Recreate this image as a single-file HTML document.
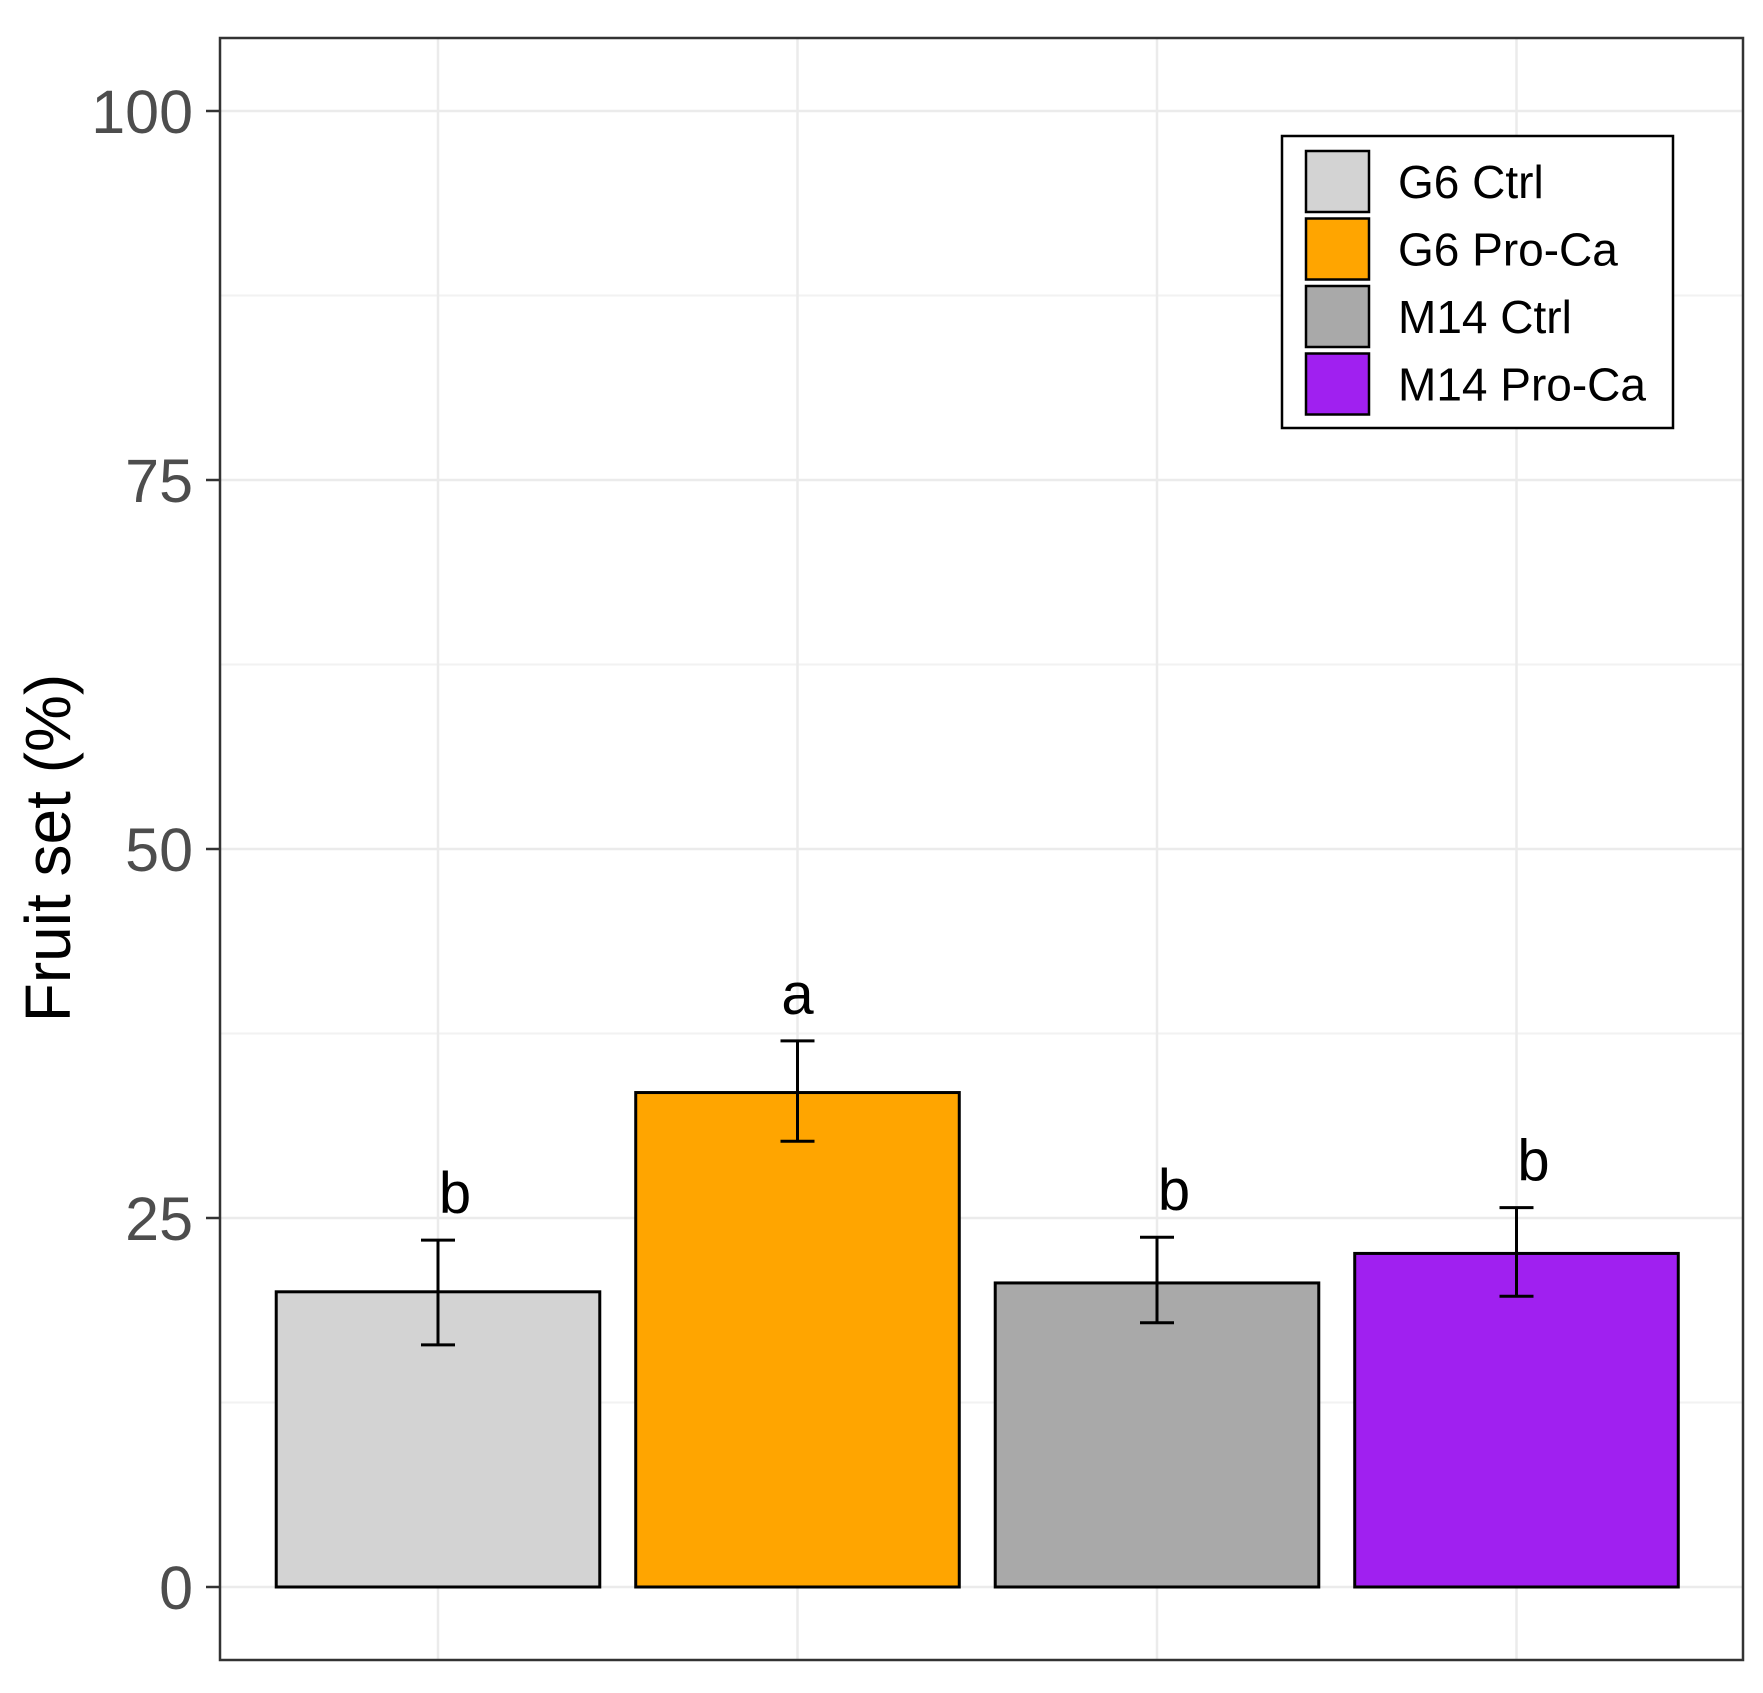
<!DOCTYPE html>
<html><head><meta charset="utf-8"><style>
html,body{margin:0;padding:0;background:#fff;}
svg{display:block;font-family:"Liberation Sans",Arial,sans-serif;}
</style></head><body>
<svg id="chart" width="1763" height="1693" viewBox="0 0 1763 1693"></svg>
<script>
const categories = ["G6 Ctrl","G6 Pro-Ca","M14 Ctrl","M14 Pro-Ca"];
const means = [20.0, 33.5, 20.6, 22.6];
const errLow = [16.4, 30.2, 17.9, 19.7];
const errHigh = [23.5, 37.0, 23.7, 25.7];
const sigLetters = ["b","a","b","b"];
const colors = ["#d3d3d3","#ffa500","#a9a9a9","#a020f0"];
const yTicks = [0,25,50,75,100];
const yMinor = [12.5,37.5,62.5,87.5];

const NS="http://www.w3.org/2000/svg";
const svg=document.getElementById('chart');
const P={l:220,r:1743,t:38,b:1660};
const step=359.5;
function x(i){return 438+i*step;}
function y(v){return 1587-14.76*v;}
function mk(tag,attrs,parent){const e=document.createElementNS(NS,tag);for(const k in attrs)e.setAttribute(k,attrs[k]);(parent||svg).appendChild(e);return e;}

// grid
yMinor.forEach(v=>{const l=mk('line',{x1:P.l,x2:P.r,y1:y(v),y2:y(v),stroke:'#f2f2f2','stroke-width':2});

});
yTicks.forEach(v=>{const l=mk('line',{x1:P.l,x2:P.r,y1:y(v),y2:y(v),stroke:'#ebebeb','stroke-width':2.5});

});
categories.forEach((c,i)=>{const l=mk('line',{x1:x(i),x2:x(i),y1:P.t,y2:P.b,stroke:'#ebebeb','stroke-width':2.5});

});

// bars
const bw=0.9*step;
categories.forEach((c,i)=>{
 const r=mk('rect',{x:x(i)-bw/2,y:y(means[i]),width:bw,height:y(0)-y(means[i]),fill:colors[i],stroke:'#000','stroke-width':3});
 
 
 const g=mk('g',{stroke:'#000','stroke-width':3});
 
 
 mk('line',{x1:x(i),x2:x(i),y1:y(errLow[i]),y2:y(errHigh[i])},g);
 mk('line',{x1:x(i)-17,x2:x(i)+17,y1:y(errLow[i]),y2:y(errLow[i])},g);
 mk('line',{x1:x(i)-17,x2:x(i)+17,y1:y(errHigh[i]),y2:y(errHigh[i])},g);
 const t=mk('text',{x:x(i)+(sigLetters[i]==='b'?17:0),y:y(errHigh[i])-27,'font-size':58,'text-anchor':'middle',fill:'#000'});
 t.textContent=sigLetters[i];
 
 
});

// panel border
const pb=mk('rect',{x:P.l,y:P.t,width:P.r-P.l,height:P.b-P.t,fill:'none',stroke:'#333','stroke-width':2.5});



// y ticks
yTicks.forEach(v=>{
 const tk=mk('line',{x1:P.l-14,x2:P.l,y1:y(v),y2:y(v),stroke:'#333','stroke-width':2.5});
 
 
 const t=mk('text',{x:193,y:y(v)+22,'font-size':61,'text-anchor':'end',fill:'#4d4d4d'});
 t.textContent=v;
 
 
});

// y title
const yt=mk('text',{x:0,y:0,'font-size':64,'text-anchor':'middle',fill:'#000',transform:'translate(70,848) rotate(-90)'});
yt.textContent='Fruit set (%)';



// legend
const lg=mk('g',{});


mk('rect',{x:1282,y:136,width:391,height:292,fill:'#fff',stroke:'#000','stroke-width':2.5},lg);
categories.forEach((c,i)=>{
 const ry=151+i*67.5;
 const e=mk('g',{},lg);
 
 
 mk('rect',{x:1306,y:ry,width:63,height:61,fill:colors[i],stroke:'#000','stroke-width':2.5},e);
 const t=mk('text',{x:1398,y:ry+47,'font-size':46,fill:'#000'},e);
 t.textContent=c;
});
</script>
</body></html>
